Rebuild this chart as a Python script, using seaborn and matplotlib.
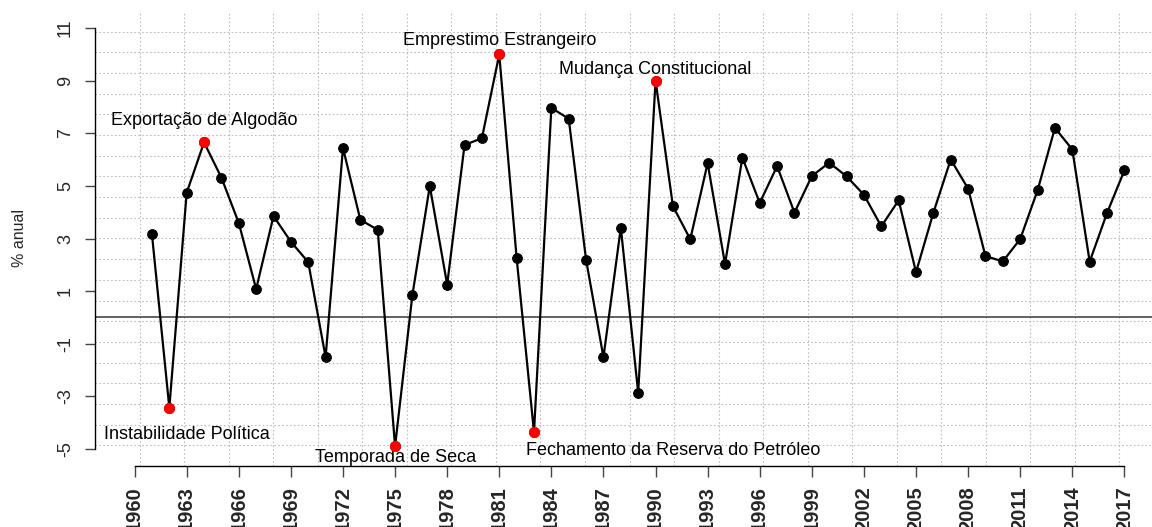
import numpy as np
import pandas as pd
import seaborn as sns
import matplotlib.pyplot as plt

# PIB growth (% anual)
years = list(range(1961, 2018))
values = [3.16, -3.43, 4.74, 6.65, 5.31, 3.59, 1.08, 3.85, 2.88, 2.10,
          -1.51, 6.44, 3.71, 3.33, -4.89, 0.87, 4.99, 1.25, 6.55, 6.81,
          9.99, 2.26, -4.36, 7.96, 7.55, 2.19, -1.51, 3.41, -2.86, 9.00,
          4.23, 2.97, 5.86, 2.03, 6.07, 4.35, 5.75, 3.98, 5.37, 5.88,
          5.36, 4.66, 3.46, 4.45, 1.72, 3.98, 6.00, 4.89, 2.33, 2.13,
          2.98, 4.83, 7.20, 6.38, 2.12, 3.97, 5.59]

event_years = [1962, 1964, 1975, 1981, 1983, 1990]
event_labels = ['Instabilidade Política', 'Exportação de Algodão',
                'Temporada de Seca', 'Emprestimo Estrangeiro',
                'Fechamento da Reserva do Petróleo', 'Mudança Constitucional']

x_ticks = list(range(1960, 2018, 3))
y_ticks = [-5, -3, -1, 1, 3, 5, 7, 9, 11]

df = pd.DataFrame({'ano': years, 'pib': values})
ev = df[df['ano'].isin(event_years)].set_index('ano').loc[event_years].reset_index()

sns.set_style('white')
plt.rcParams['font.family'] = ['Liberation Sans', 'DejaVu Sans']

fig = plt.figure(figsize=(11.52, 5.27), dpi=100)
ax = fig.add_axes([95 / 1152, 61 / 527, 1069 / 1152, 455 / 527])

xlim = (1957.72, 2019.28)
ylim = (-5.64, 11.64)
ax.set_xlim(xlim)
ax.set_ylim(ylim)

# dotted grid like R's grid()
for gx in np.linspace(xlim[0], xlim[1], 25)[1:-1]:
    ax.axvline(gx, color='#bdbdbd', lw=0.8, ls=(0, (1.5, 2)), zorder=0)
for gy in np.linspace(ylim[0], ylim[1], 23)[1:-1]:
    ax.axhline(gy, color='#bdbdbd', lw=0.8, ls=(0, (1.5, 2)), zorder=0)

ax.axhline(0, color='#555555', lw=1.3, zorder=1)

sns.lineplot(data=df, x='ano', y='pib', color='black', lw=1.6, marker='o',
             markersize=7, markeredgecolor='black', ax=ax, zorder=3)
sns.scatterplot(data=ev, x='ano', y='pib', color='red', edgecolor='red',
                s=55, ax=ax, zorder=4)

# event labels
offsets = {1962: (12.6, -22.1), 1964: (0, 12.5), 1975: (0.5, -11.0),
           1981: (0, 6.9), 1983: (100, -16.5), 1990: (-0.5, 4.6)}
for yr, lab, val in zip(ev['ano'], event_labels, ev['pib']):
    ax.annotate(lab, (yr, val), xytext=offsets[yr], textcoords='offset points',
                ha='center', va='baseline', fontsize=13, color='black')

sns.despine(ax=ax, top=True, right=True)
ax.spines['left'].set_bounds(-5, 11)
ax.spines['bottom'].set_bounds(1960, 2017)
for s in ['left', 'bottom']:
    ax.spines[s].set_color('black')
    ax.spines[s].set_linewidth(1.0)

ax.set_xticks(x_ticks, labels=[str(t) for t in x_ticks])
ax.set_yticks(y_ticks, labels=[str(t) for t in y_ticks])
ax.tick_params(axis='x', bottom=True, direction='out', length=7.7, width=1.0,
               color='#444444', pad=7, labelsize=14.5, labelrotation=90)
ax.tick_params(axis='y', left=True, direction='out', length=7.2, width=1.0,
               color='#444444', pad=8, labelsize=13)
for t in ax.get_xticklabels():
    t.set_fontweight('bold')
for t in ax.get_yticklabels():
    t.set_rotation(90)
    t.set_va('center')

ax.set_xlabel('')
ax.set_ylabel('')
fig.text(20 / 1152, 1 - 238 / 527, '% anual', rotation=90, ha='center',
         va='center', fontsize=11.5)

fig.savefig('out.png', dpi=100)
